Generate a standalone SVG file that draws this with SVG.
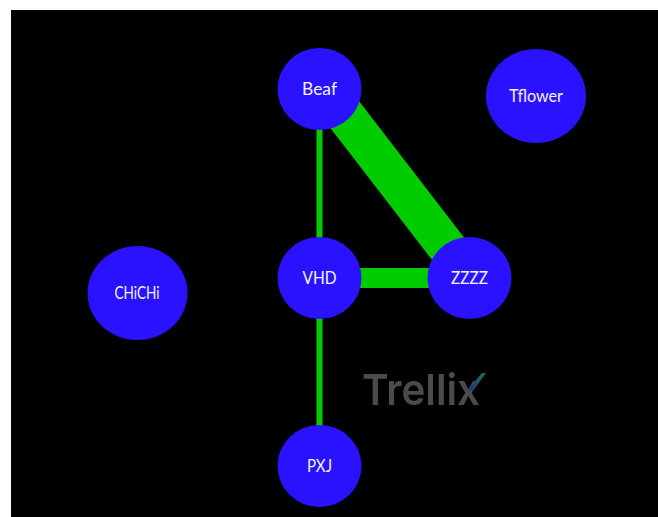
<svg xmlns="http://www.w3.org/2000/svg" width="658" height="517" viewBox="0 0 658 517">
<style>
.n{fill:#2a12ff}
.t{font-family:Lato,"Open Sans",sans-serif;font-size:17.5px;fill:#f2f2ff;text-anchor:middle}
.e{stroke:#00cc00;fill:none}
</style>
<defs>
<linearGradient id="acc" x1="1" y1="0" x2="0" y2="1"><stop offset="0" stop-color="#1f7a3a"/><stop offset="1" stop-color="#1a2f90"/></linearGradient>
<filter id="soft" x="-10%" y="-10%" width="120%" height="120%"><feGaussianBlur stdDeviation="0.6"/></filter>
</defs>
<rect width="658" height="517" fill="#fff"/>
<rect x="11" y="10" width="647" height="507" fill="#000"/>
<g id="logo" filter="url(#soft)">
<text x="362" y="405" font-family="Inter,sans-serif" font-size="43" font-weight="600" fill="#4c4c4c" textLength="118" lengthAdjust="spacingAndGlyphs">Trellix</text>
<path d="M482 373L486 373L473 391L468 389Z" fill="url(#acc)"/>
</g>
<g id="connectors">
<line class="e" x1="319.5" y1="89" x2="319.5" y2="278" stroke-width="6"/>
<line class="e" x1="319.5" y1="466" x2="319.5" y2="278" stroke-width="6"/>
<line class="e" x1="319.5" y1="278" x2="469.5" y2="278" stroke-width="20"/>
<line class="e" x1="325" y1="89" x2="466" y2="272" stroke-width="39"/>
</g>
<g id="beaf"><ellipse class="n" cx="319.5" cy="89" rx="42" ry="41"/><text class="t" x="319.5" y="95" textLength="35" lengthAdjust="spacingAndGlyphs">Beaf</text></g>
<g id="tflower"><ellipse class="n" cx="536" cy="96" rx="50" ry="47"/><text class="t" x="536" y="102" textLength="54" lengthAdjust="spacingAndGlyphs">Tflower</text></g>
<g id="chichi"><ellipse class="n" cx="137.5" cy="293" rx="50" ry="47"/><text class="t" x="137" y="299" textLength="45" lengthAdjust="spacingAndGlyphs">CHiCHi</text></g>
<g id="vhd"><ellipse class="n" cx="319.5" cy="278" rx="42" ry="41"/><text class="t" x="319.5" y="284" textLength="34" lengthAdjust="spacingAndGlyphs">VHD</text></g>
<g id="zzzz"><ellipse class="n" cx="469.5" cy="278" rx="42" ry="41"/><text class="t" x="469.5" y="284" textLength="37" lengthAdjust="spacingAndGlyphs">ZZZZ</text></g>
<g id="pxj"><ellipse class="n" cx="319.5" cy="466" rx="42" ry="41"/><text class="t" x="319.5" y="472" textLength="25" lengthAdjust="spacingAndGlyphs">PXJ</text></g>
</svg>
